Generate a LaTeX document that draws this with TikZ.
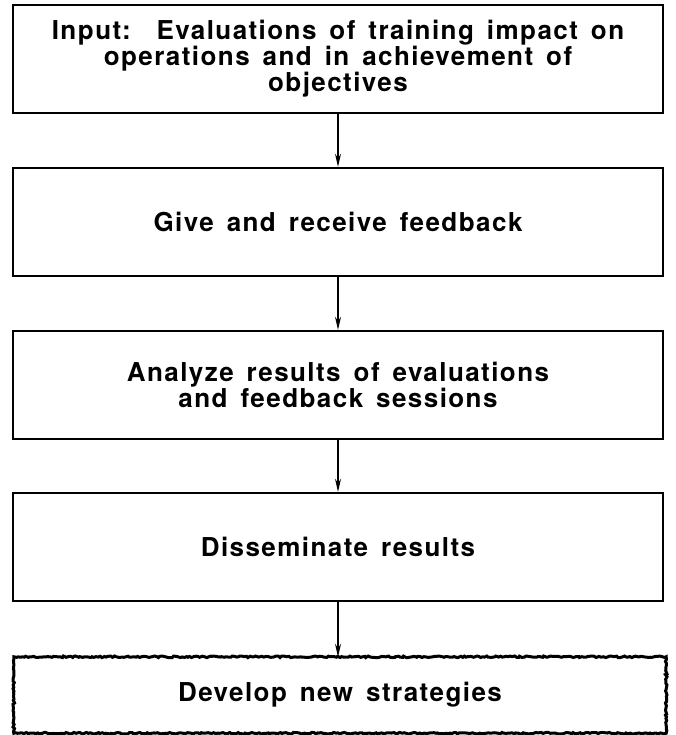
\documentclass[tikz,border=0pt]{standalone}
\usepackage{fontspec}
\newfontfamily\boxfont{TeX Gyre Heros}[LetterSpace=5.5,WordSpace=1.5]
\usetikzlibrary{arrows.meta,decorations.pathmorphing}

\begin{document}
\begin{tikzpicture}[x=1pt,y=-1pt,
    stage/.style={draw,line width=2.4pt,minimum width=650pt,minimum height=108pt,
        align=center,inner sep=0pt,
        font=\boxfont\bfseries\fontsize{26}{25}\selectfont},
    lastbox/.style={stage,draw=none,minimum height=74pt},
    flow/.style={-{Stealth[length=13pt,width=6pt]},line width=1.1pt}]
    \useasboundingbox (0,0) rectangle (675,735);
    % stages, top to bottom
    \node[stage] (input) at (338,59) {Input:\ \ Evaluations of training impact on\\
        operations and in achievement of\\ objectives};
    \node[stage] (feedback) at (338,222) {Give and receive feedback};
    \node[stage] (analyze) at (338,385) {Analyze results of evaluations\\
        and feedback sessions};
    \node[stage] (disseminate) at (338,547) {Disseminate results};
    \node[lastbox] (develop) at (340,695) {Develop new strategies};
    % rough edge of the last box
    \draw[line width=3pt,decorate,
        decoration={random steps,segment length=2pt,amplitude=0.8pt}]
        (develop.north west) rectangle (develop.south east);
    % arrows
    \draw[flow] (input) -- (feedback);
    \draw[flow] (feedback) -- (analyze);
    \draw[flow] (analyze) -- (disseminate);
    \draw[flow] (disseminate.south) -- (disseminate.south |- develop.north);
\end{tikzpicture}
\end{document}
